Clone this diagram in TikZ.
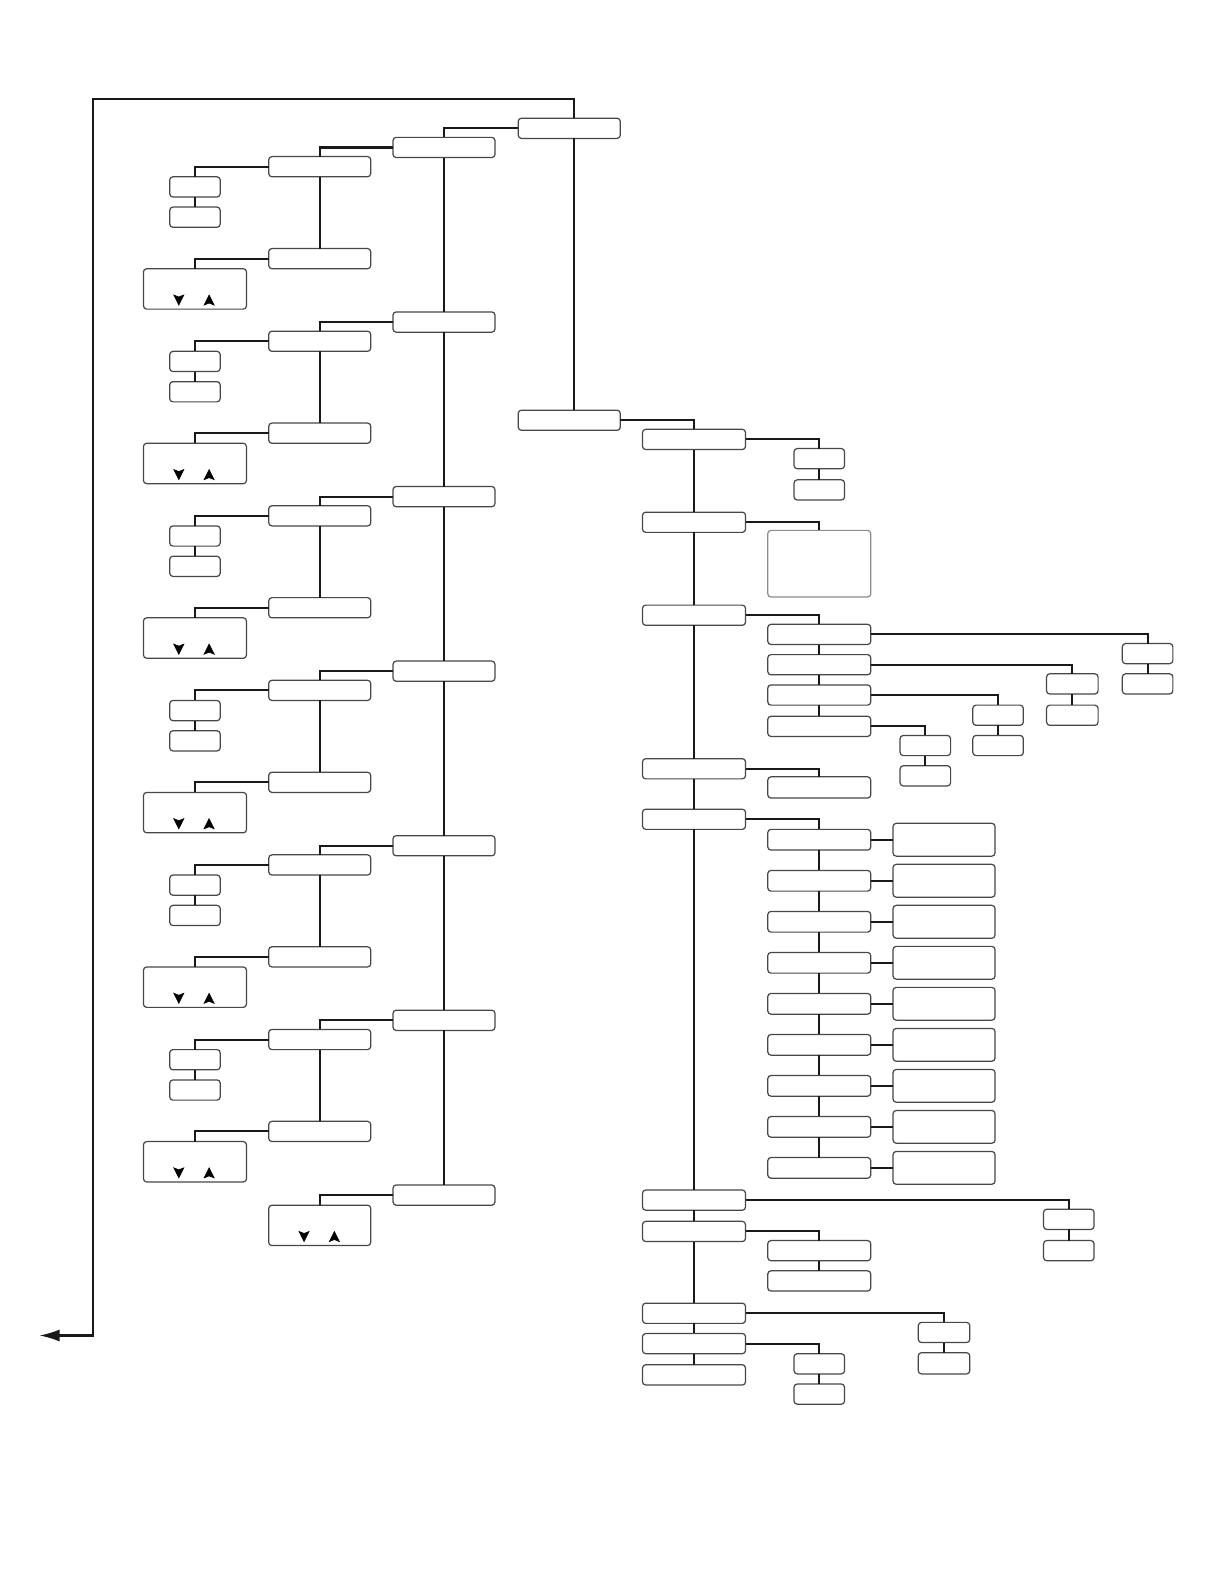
\documentclass[tikz,border=0pt]{standalone}
\usetikzlibrary{calc,arrows.meta}
\tikzset{
  box/.style={draw=black!72, fill=white, rounded corners=1.6pt, line width=0.6pt, inner sep=0pt, outer sep=0pt},
  pale/.style={box, draw=black!45},
  conn/.style={line width=1pt, black!90},
  tri/.style={fill=black, draw=black, line width=0.3pt, line join=miter}
}
\newcommand\bx[6][box]{\node[#1, minimum width={((#5)-(#3))*0.5pt}, minimum height={((#6)-(#4))*0.5pt}] (#2) at ({((#3)+(#5))/2},{((#4)+(#6))/2}) {};}
\newcommand\dnarrowmark[2]{\filldraw[tri] ({#1-5},{(#2)-5}) -- ({#1},{(#2)-3}) -- ({#1+5},{(#2)-5}) -- ({#1},{(#2)+5}) -- cycle;}
\newcommand\uparrowmark[2]{\filldraw[tri] ({#1-5},{(#2)+5}) -- ({#1},{(#2)+3}) -- ({#1+5},{(#2)+5}) -- ({#1},{(#2)-5}) -- cycle;}
\begin{document}
\begin{tikzpicture}[x=0.5pt,y=-0.5pt]
\useasboundingbox (0,0) rectangle (1212,1568);
% root and second main node
\bx{A}{513}{117}{614}{137}
\bx{B}{513}{406}{614}{426}
% loop back arrow
\coordinate (lt) at (92,98);
\coordinate (lb) at (92,1322);
\coordinate (out) at (39,1322);
\draw[conn,-{Latex[length=10pt,width=6pt]}] ($(A.north)+(5,0)$) |- (lt) -- (lb) -- (out);
\draw[conn] ($(A.south)+(5,0)$) -- ($(B.north)+(5,0)$);
% left column
\foreach \i in {0,...,5}{
  \pgfmathsetmacro\t{136+\i*172.8}
  \bx{C\i}{389}{\t}{490}{\t+20}
  \bx{D\i}{266}{\t+19}{367}{\t+39}
  \bx{E\i}{266}{\t+110}{367}{\t+130}
  \bx{F\i}{168}{\t+39}{218}{\t+59}
  \bx{FF\i}{168}{\t+69}{218}{\t+89}
  \bx{G\i}{142}{\t+130}{244}{\t+170}
  \dnarrowmark{177}{\t+161}
  \uparrowmark{207}{\t+161}
  \draw[conn] (C\i.west) -| (D\i.north);
  \draw[conn] (D\i.south) -- (E\i.north);
  \draw[conn] (D\i.west) -| (F\i.north);
  \draw[conn] (F\i.south) -- (FF\i.north);
  \draw[conn] (E\i.west) -| (G\i.north);
}
\bx{C6}{389}{1173}{490}{1193}
\bx{H}{266}{1193}{367}{1233}
\dnarrowmark{301}{1224}
\uparrowmark{331}{1224}
\draw[conn] (C6.west) -| (H.north);
\draw[conn] (A.west) -| (C0.north);
\foreach \i/\j in {0/1,1/2,2/3,3/4,4/5,5/6}{
  \draw[conn] (C\i.south) -- (C\j.north);
}
% right column
\foreach \k/\t in {1/425,2/507,3/599,4/751,5/801,6/1178,7/1209,8/1290,9/1320,10/1351}{
  \bx{R\k}{636}{\t}{738}{\t+20}
}
\draw[conn] (B.east) -| (R1.north);
\foreach \i/\j in {1/2,2/3,3/4,4/5,5/6,6/7,7/8,8/9,9/10}{
  \draw[conn] (R\i.south) -- (R\j.north);
}
% R1 children
\bx{S1}{786}{444}{836}{464}
\bx{S2}{786}{475}{836}{495}
\draw[conn] (R1.east) -| (S1.north);
\draw[conn] (S1.south) -- (S2.north);
% R2 child
\bx[pale]{P}{760}{525}{862}{591}
\draw[conn] (R2.east) -| (P.north);
% R3 children
\foreach \n/\t in {1/618,2/648,3/678,4/709}{
  \bx{T\n}{760}{\t}{862}{\t+20}
}
\draw[conn] (R3.east) -| (T1.north);
\foreach \i/\j in {1/2,2/3,3/4}{\draw[conn] (T\i.south) -- (T\j.north);}
\bx{Ua}{1111}{637}{1161}{657}
\bx{Ub}{1111}{667}{1161}{687}
\bx{Va}{1036}{667}{1087}{687}
\bx{Vb}{1036}{698}{1087}{718}
\bx{Wa}{963}{698}{1013}{718}
\bx{Wb}{963}{728}{1013}{748}
\bx{Xa}{891}{728}{941}{748}
\bx{Xb}{891}{758}{941}{778}
\draw[conn] (T1.east) -| (Ua.north);
\draw[conn] (Ua.south) -- (Ub.north);
\draw[conn] (T2.east) -| (Va.north);
\draw[conn] (Va.south) -- (Vb.north);
\draw[conn] (T3.east) -| (Wa.north);
\draw[conn] (Wa.south) -- (Wb.north);
\draw[conn] (T4.east) -| (Xa.north);
\draw[conn] (Xa.south) -- (Xb.north);
% R4 child
\bx{Q}{760}{769}{862}{790}
\draw[conn] (R4.east) -| (Q.north);
% R5 children
\foreach \n in {1,...,9}{
  \pgfmathsetmacro\t{821+(\n-1)*40.6}
  \bx{L\n}{760}{\t}{862}{\t+20.5}
  \bx{M\n}{884}{\t-6}{985}{\t+26.5}
  \draw[conn] (L\n.east) -- (M\n.west);
}
\draw[conn] (R5.east) -| (L1.north);
\foreach \i/\j in {1/2,2/3,3/4,4/5,5/6,6/7,7/8,8/9}{\draw[conn] (L\i.south) -- (L\j.north);}
% R6 children
\bx{Ya}{1033}{1197}{1083}{1217}
\bx{Yb}{1033}{1228}{1083}{1248}
\draw[conn] (R6.east) -| (Ya.north);
\draw[conn] (Ya.south) -- (Yb.north);
% R7 children
\bx{Za}{760}{1228}{862}{1248}
\bx{Zb}{760}{1258}{862}{1278}
\draw[conn] (R7.east) -| (Za.north);
\draw[conn] (Za.south) -- (Zb.north);
% R8 children
\bx{Ka}{909}{1309}{960}{1329}
\bx{Kb}{909}{1339}{960}{1360}
\draw[conn] (R8.east) -| (Ka.north);
\draw[conn] (Ka.south) -- (Kb.north);
% R9 children
\bx{Ja}{786}{1340}{836}{1360}
\bx{Jb}{786}{1370}{836}{1390}
\draw[conn] (R9.east) -| (Ja.north);
\draw[conn] (Ja.south) -- (Jb.north);
\end{tikzpicture}
\end{document}
